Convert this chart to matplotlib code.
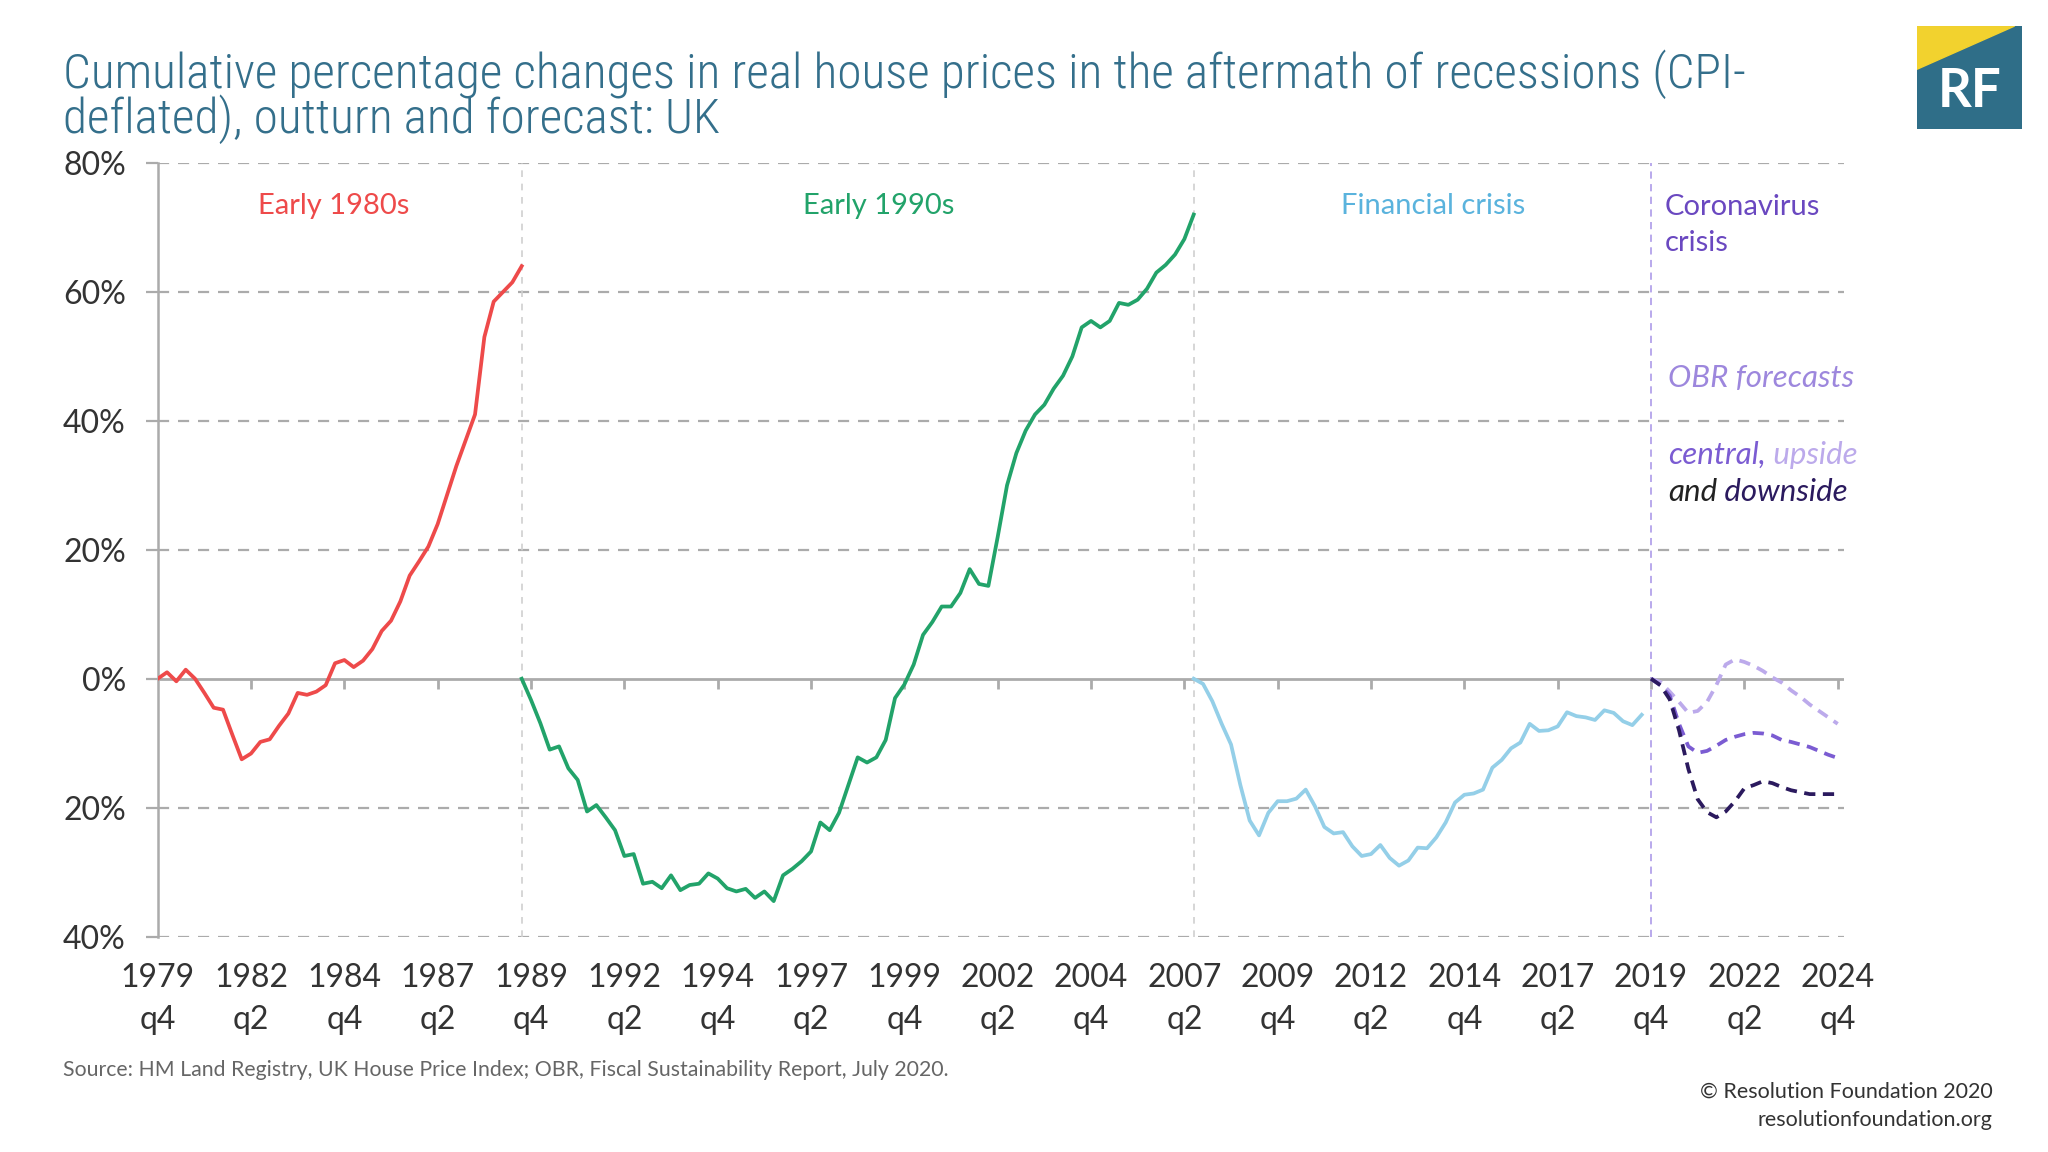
import numpy as np
import matplotlib
matplotlib.use("Agg")
import matplotlib.pyplot as plt
from matplotlib.patches import Rectangle, Polygon

# ------------------------------------------------------------
# Data, quarterly index from 1979q4
# ------------------------------------------------------------
tick_labels = ["1979\nq4", "1982\nq2", "1984\nq4", "1987\nq2", "1989\nq4",
               "1992\nq2", "1994\nq4", "1997\nq2", "1999\nq4", "2002\nq2",
               "2004\nq4", "2007\nq2", "2009\nq4", "2012\nq2", "2014\nq4",
               "2017\nq2", "2019\nq4", "2022\nq2", "2024\nq4"]
ytick_values = [-40, -20, 0, 20, 40, 60, 80]
ytick_labels = ["40%", "20%", "0%", "20%", "40%", "60%", "80%"]

start_1980s = 0
start_1990s = 39
start_gfc = 111
start_covid = 160

early_1980s = [0.0, 1.0, -0.4, 1.4, 0.0, -2.2, -4.5, -4.8, -8.7, -12.5,
               -11.6, -9.8, -9.4, -7.3, -5.4, -2.2, -2.5, -2.0, -1.0, 2.4,
               2.9, 1.8, 2.8, 4.6, 7.4, 9.0, 12.0, 16.0, 18.2, 20.5,
               24.0, 28.5, 33.0, 37.0, 41.0, 53.0, 58.5, 60.0, 61.5, 64.0]

early_1990s = [0.0, -3.3, -6.9, -11.0, -10.5, -13.9, -15.7, -20.6, -19.6, -21.5,
               -23.5, -27.5, -27.2, -31.8, -31.5, -32.5, -30.5, -32.8, -32.0, -31.8,
               -30.2, -31.0, -32.5, -33.0, -32.6, -34.0, -33.0, -34.5, -30.5, -29.5,
               -28.3, -26.8, -22.3, -23.5, -20.8, -16.5, -12.2, -13.0, -12.2, -9.5,
               -3.0, -0.9, 2.2, 6.8, 8.8, 11.2, 11.2, 13.3, 17.0, 14.7,
               14.4, 22.0, 30.0, 35.0, 38.5, 41.0, 42.5, 45.0, 47.0, 50.0,
               54.5, 55.5, 54.5, 55.5, 58.3, 58.0, 58.8, 60.5, 63.0, 64.2,
               65.8, 68.2, 72.0]

financial_crisis = [0.0, -0.8, -3.5, -7.0, -10.2, -16.5, -22.0, -24.3, -20.8, -19.0,
                    -19.0, -18.6, -17.2, -19.8, -23.0, -24.0, -23.8, -26.0, -27.5, -27.2,
                    -25.8, -27.8, -29.0, -28.2, -26.2, -26.3, -24.6, -22.3, -19.2, -18.0,
                    -17.8, -17.2, -13.8, -12.6, -10.8, -9.9, -7.0, -8.1, -8.0, -7.4,
                    -5.2, -5.8, -6.0, -6.4, -4.9, -5.3, -6.6, -7.2, -5.6]

covid_upside = [0.0, -0.5, -2.0, -3.6, -5.3, -5.0, -3.6, -1.0, 2.2, 3.0,
                2.6, 2.0, 1.2, 0.2, -0.6, -1.8, -2.8, -4.0, -5.0, -6.0, -7.0]
covid_central = [0.0, -1.0, -2.6, -7.0, -10.5, -11.5, -11.2, -10.4, -9.5, -9.0,
                 -8.6, -8.4, -8.5, -8.8, -9.5, -9.8, -10.2, -10.6, -11.2, -11.8, -12.3]
covid_downside = [0.0, -1.0, -3.2, -8.0, -14.0, -18.7, -20.7, -21.5, -20.6, -19.0,
                  -17.0, -16.5, -15.9, -16.2, -16.8, -17.3, -17.6, -17.9, -17.9, -17.9, -17.9]

# ------------------------------------------------------------
# Style
# ------------------------------------------------------------
plt.rcParams['font.family'] = ['Lato', 'DejaVu Sans']
TITLE_FONT = ['Roboto Condensed', 'Liberation Sans Narrow', 'Lato', 'DejaVu Sans']

RED = '#ee4a4a'
GREEN = '#22a36a'
BLUE = '#94cfe8'
BLUE_TEXT = '#5ab3dd'
PURPLE_TEXT = '#6a48c0'
C_CENTRAL = '#7b5cd2'
C_UPSIDE = '#bcaaeb'
C_DOWNSIDE = '#2b1a5e'
GRID = '#ababab'
TITLE_COL = '#346f8b'

fig = plt.figure(figsize=(20.48, 11.52), dpi=100)
ax = fig.add_axes([0.077, 0.187, 0.8235, 0.6715])

# series
def xs(start, vals):
    return start + np.arange(len(vals))

ax.plot(xs(start_1980s, early_1980s), early_1980s, color=RED, lw=2.7, zorder=5)
ax.plot(xs(start_1990s, early_1990s), early_1990s, color=GREEN, lw=2.7, zorder=5)
ax.plot(xs(start_gfc, financial_crisis), financial_crisis, color=BLUE, lw=2.7, zorder=5)
ax.plot(xs(start_covid, covid_upside), covid_upside, color=C_UPSIDE, lw=2.7,
        ls=(0, (3, 2)), zorder=5)
ax.plot(xs(start_covid, covid_central), covid_central, color=C_CENTRAL, lw=2.7,
        ls=(0, (3, 2)), zorder=6)
ax.plot(xs(start_covid, covid_downside), covid_downside, color=C_DOWNSIDE, lw=2.7,
        ls=(0, (3, 2)), zorder=7)

# axes limits / grid
x_end = 180.7
ax.set_xlim(0, x_end)
ax.set_ylim(-40, 80)

for v in ytick_values:
    if v != 0:
        ax.axhline(v, color=GRID, lw=1.6, ls=(0, (5, 4)), zorder=1)
ax.axhline(0, color=GRID, lw=2.0, zorder=2)

# recession start markers
for s in [start_1990s, start_gfc]:
    ax.axvline(s, color='#d0d0d0', lw=1.2, ls=(0, (4, 4)), zorder=1)
ax.axvline(start_covid, color='#b3a2ea', lw=1.3, ls=(0, (4, 3)), zorder=1)

# x ticks hang down from the 0% line
tick_pos = np.arange(0, 181, 10)
ax.vlines(tick_pos[1:], -1.6, 0, color=GRID, lw=2.0, zorder=2)
ax.set_xticks(tick_pos)
ax.set_xticklabels(tick_labels, fontsize=23, color='#333333', linespacing=1.5)
ax.tick_params(axis='x', length=0, pad=19)

ax.set_yticks(ytick_values)
ax.set_yticklabels(ytick_labels, fontsize=23, color='#333333')
ax.tick_params(axis='y', length=9, width=1.6, color=GRID, pad=14)

for side in ['top', 'right', 'bottom']:
    ax.spines[side].set_visible(False)
ax.spines['left'].set_color(GRID)
ax.spines['left'].set_linewidth(1.8)

# period labels
ax.text(18.9, 73.3, "Early 1980s", color=RED, fontsize=21, ha='center', va='center')
ax.text(77.3, 73.3, "Early 1990s", color=GREEN, fontsize=21, ha='center', va='center')
ax.text(136.6, 73.3, "Financial crisis", color=BLUE_TEXT, fontsize=21, ha='center', va='center')
ax.text(161.5, 70.4, "Coronavirus\ncrisis", color=PURPLE_TEXT, fontsize=21,
        ha='left', va='center', linespacing=1.45)

ax.text(161.8, 46.6, "OBR forecasts", color='#9d87dd', fontsize=22.5, style='italic',
        ha='left', va='center')
t1 = ax.text(161.8, 34.7, "central,", color=C_CENTRAL, fontsize=22.5, style='italic',
             ha='left', va='center')
ax.annotate(" upside", xy=(1, 0), xycoords=t1, color=C_UPSIDE, fontsize=22.5,
            style='italic', ha='left', va='bottom')
t3 = ax.text(161.8, 28.9, "and", color='#222222', fontsize=22.5, style='italic',
             ha='left', va='center')
ax.annotate(" downside", xy=(1, 0), xycoords=t3, color=C_DOWNSIDE, fontsize=22.5,
            style='italic', ha='left', va='bottom')

# title
fig.text(0.031, 0.916, "Cumulative percentage changes in real house prices in the aftermath of recessions (CPI-\n"
         "deflated), outturn and forecast: UK",
         fontsize=35.5, color=TITLE_COL, family=TITLE_FONT, fontweight='light',
         ha='left', va='center', linespacing=0.9)

# footers
fig.text(0.031, 0.071, "Source: HM Land Registry, UK House Price Index; OBR, Fiscal Sustainability Report, July 2020.",
         fontsize=15.3, color='#666666', ha='left', va='center')
fig.text(0.973, 0.052, "© Resolution Foundation 2020", fontsize=15.5, color='#333333',
         ha='right', va='center')
fig.text(0.973, 0.028, "resolutionfoundation.org", fontsize=15.5, color='#333333',
         ha='right', va='center')

# RF logo
lax = fig.add_axes([0.936, 0.888, 0.0513, 0.0894])
lax.set_xlim(0, 1)
lax.set_ylim(0, 1)
lax.axis('off')
lax.add_patch(Rectangle((0, 0), 1, 1, color='#2f6e88'))
lax.add_patch(Polygon([(0, 1), (0.93, 1), (0, 0.58)], closed=True, color='#f2d22e'))
lax.text(0.5, 0.36, "RF", color='white', fontsize=38, fontweight='bold',
         ha='center', va='center')

fig.savefig("out.png", dpi=100)
